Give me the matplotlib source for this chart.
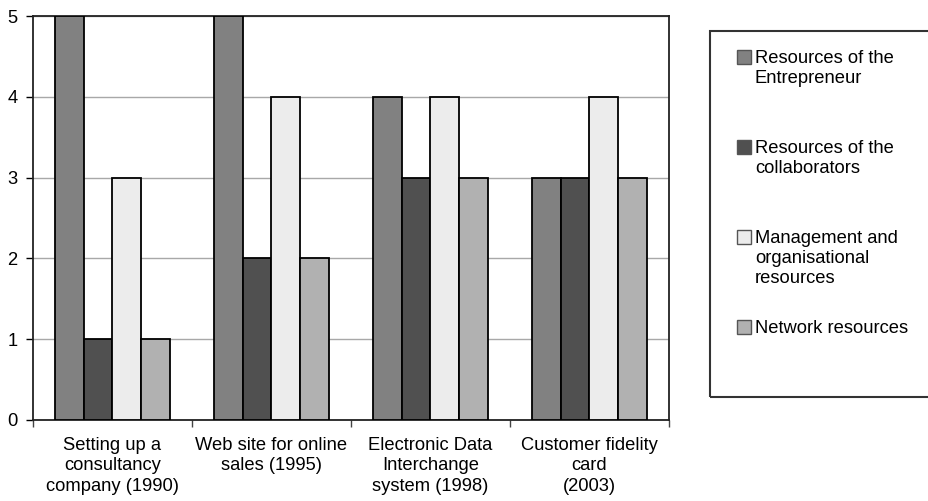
import numpy as np
import matplotlib.pyplot as plt
from matplotlib.patches import Rectangle

plt.rcParams['font.family'] = ['Liberation Sans', 'DejaVu Sans']

# Projects and resource scores
projects = ["Setting up a\nconsultancy\ncompany (1990)",
            "Web site for online\nsales (1995)",
            "Electronic Data\nInterchange\nsystem (1998)",
            "Customer fidelity\ncard\n(2003)"]
series_names = ["Resources of the\nEntrepreneur",
                "Resources of the\ncollaborators",
                "Management and\norganisational\nresources",
                "Network resources"]
entrepreneur = [5, 5, 4, 3]
collaborators = [1, 2, 3, 3]
management = [3, 4, 4, 4]
network = [1, 2, 3, 3]

series = [entrepreneur, collaborators, management, network]
colors = ["#818181", "#505050", "#ececec", "#b1b1b1"]
fs = 13.2

fig = plt.figure(figsize=(9.29, 5.01), dpi=100)
ax = fig.add_axes([0.0355, 0.1617, 0.6845, 0.8063])

x = np.arange(len(projects)) + 0.5
width = 0.18
for i, (vals, col) in enumerate(zip(series, colors)):
    ax.bar(x + (i - 1.5) * width, vals, width, color=col,
           edgecolor="black", linewidth=1.3, zorder=3)

ax.set_xlim(0, 4)
ax.set_ylim(0, 5)
ax.set_yticks(range(6))
ax.tick_params(axis='y', labelsize=fs, length=5, width=1, pad=6)
ax.yaxis.grid(True, color="#a8a8a8", linewidth=1, zorder=0)

# group separators as major ticks, names as minor ticks
ax.set_xticks(range(5))
ax.set_xticklabels([])
ax.set_xticks(x, minor=True)
ax.set_xticklabels(projects, minor=True, fontsize=fs, linespacing=1.27)
ax.tick_params(axis='x', which='major', length=5, width=1, color="#444444")
ax.tick_params(axis='x', which='minor', length=0, pad=12)

for s in ax.spines.values():
    s.set_linewidth(1.3)
    s.set_color("#222222")

# legend box, running off the right edge
fig.patches.append(Rectangle((710 / 929, 1 - 397 / 501), 0.3, 366 / 501,
                             transform=fig.transFigure, fill=False,
                             edgecolor="#333333", linewidth=1.5))
for i, (name, col) in enumerate(zip(series_names, colors)):
    top = 50 + 90 * i
    fig.patches.append(Rectangle((737 / 929, 1 - (top + 14) / 501), 14 / 929, 14 / 501,
                                 transform=fig.transFigure, facecolor=col,
                                 edgecolor="#555555", linewidth=1))
    fig.text(755 / 929, 1 - top / 501, name, fontsize=fs,
             va='top', ha='left', linespacing=1.22)

fig.savefig("out.png", dpi=100)
